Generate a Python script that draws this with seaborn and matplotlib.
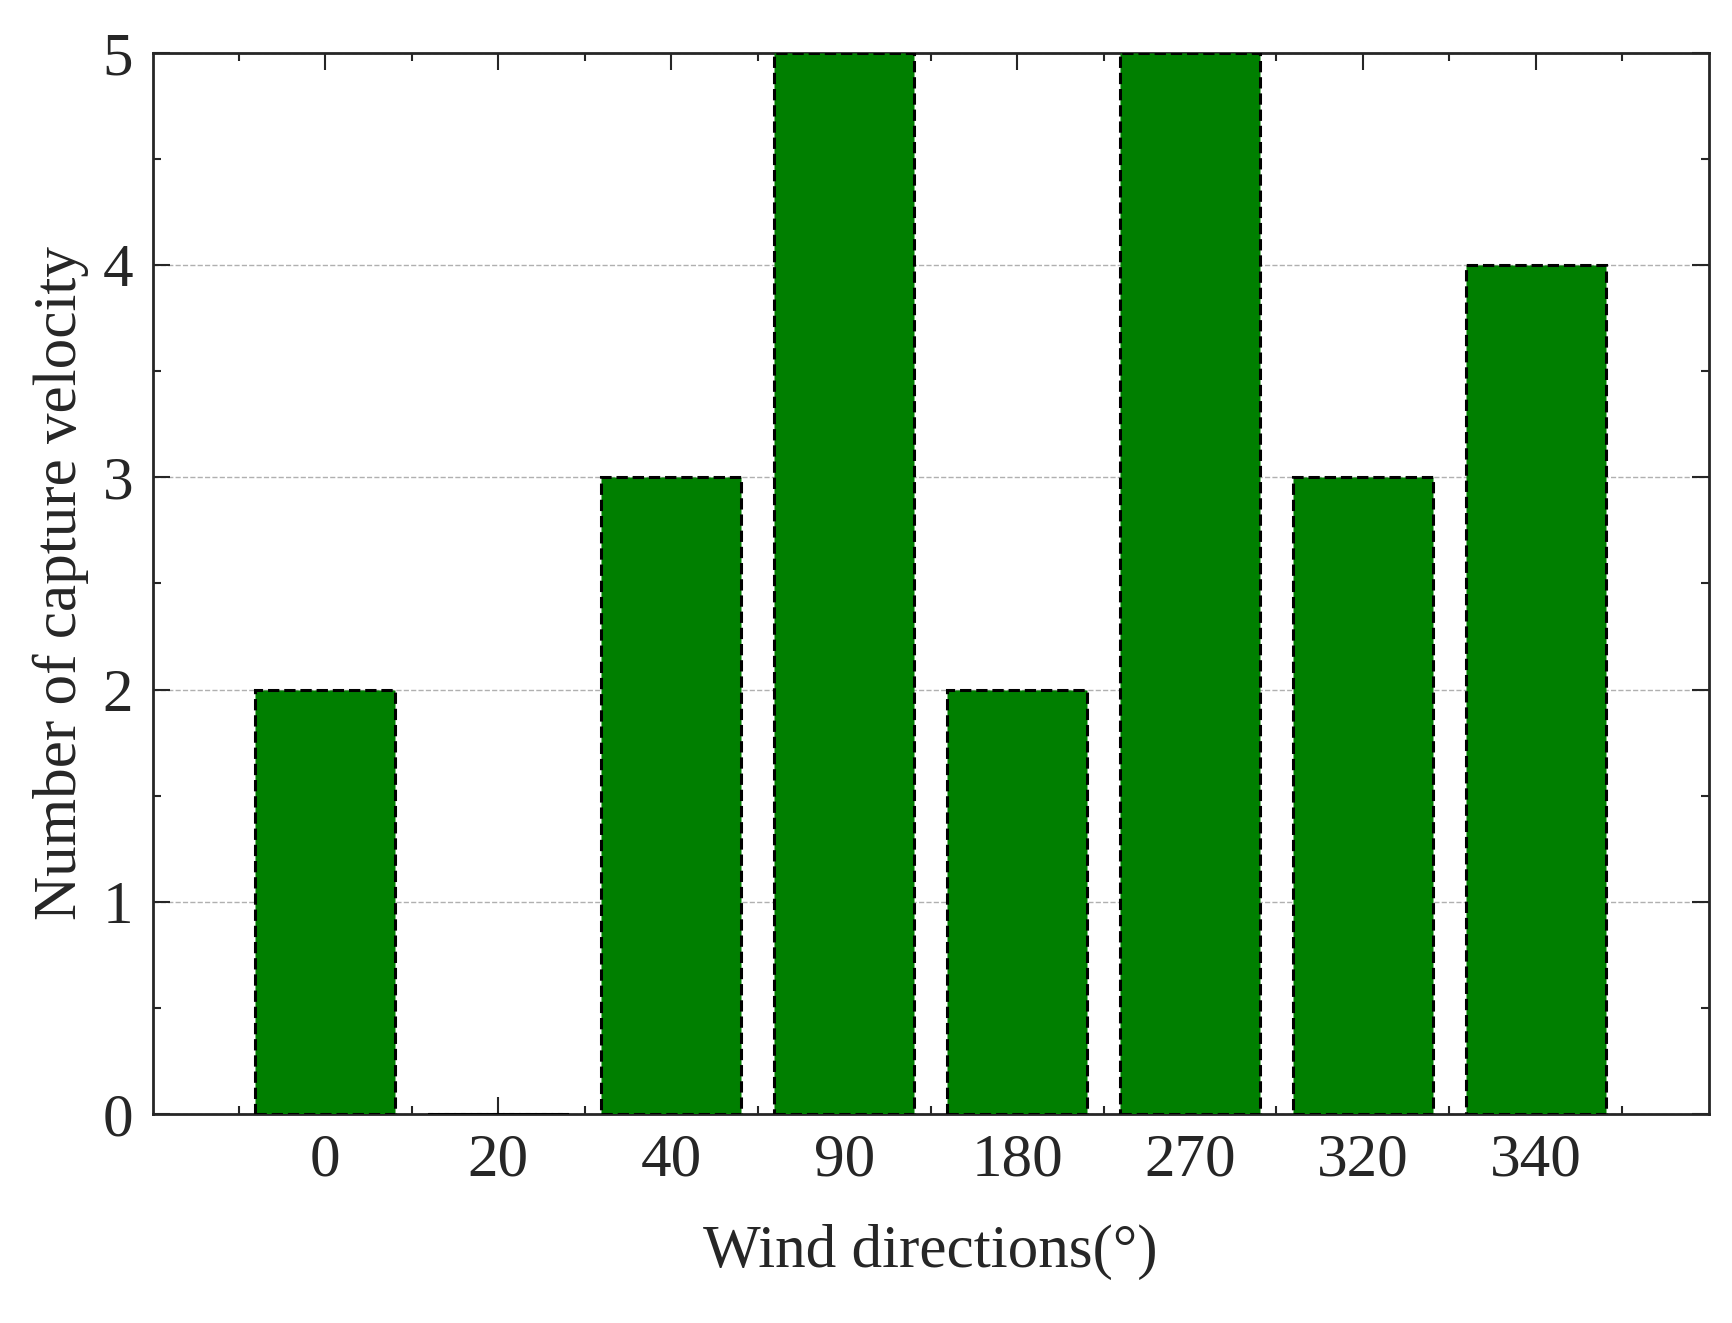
import matplotlib
matplotlib.use("Agg")
import matplotlib.pyplot as plt
import seaborn as sns
import pandas as pd
from matplotlib.ticker import MultipleLocator

# Datos
direcciones = ["0", "20", "40", "90", "180", "270", "320", "340"]
conteos = [2, 0, 3, 5, 2, 5, 3, 4]

df = pd.DataFrame({"dir": direcciones, "n": conteos})

sns.set_style("ticks")
plt.rcParams["font.family"] = ["Liberation Serif", "DejaVu Serif"]

fig = plt.figure(figsize=(17.33, 13.23), dpi=100)
ax = fig.add_axes([0.088, 0.158, 0.898, 0.802])

ax.grid(True, color="#b0b0b0", linestyle="--", linewidth=1)
ax.set_axisbelow(True)
sns.barplot(data=df, x="dir", y="n", order=direcciones, color="#007f00",
            saturation=1, width=0.81, edgecolor="black", linewidth=2.2,
            linestyle="--", ax=ax, zorder=3)

ax.set_xlim(-1, 8)
ax.set_ylim(0, 5)
ax.yaxis.set_major_locator(MultipleLocator(1))
ax.yaxis.set_minor_locator(MultipleLocator(0.5))
ax.set_xticks([i - 0.5 for i in range(9)], minor=True)
ax.tick_params(which="both", direction="in", top=True, right=True,
               labelsize=44, width=1.5, pad=14)
ax.tick_params(which="major", length=12)
ax.tick_params(which="minor", length=6)
for s in ax.spines.values():
    s.set_linewidth(2)
    s.set_visible(True)

ax.set_xlabel("Wind directions(°)", fontsize=44, labelpad=25)
ax.set_ylabel("Number of capture velocity", fontsize=44, labelpad=10)

fig.savefig("out.png", dpi=100)
